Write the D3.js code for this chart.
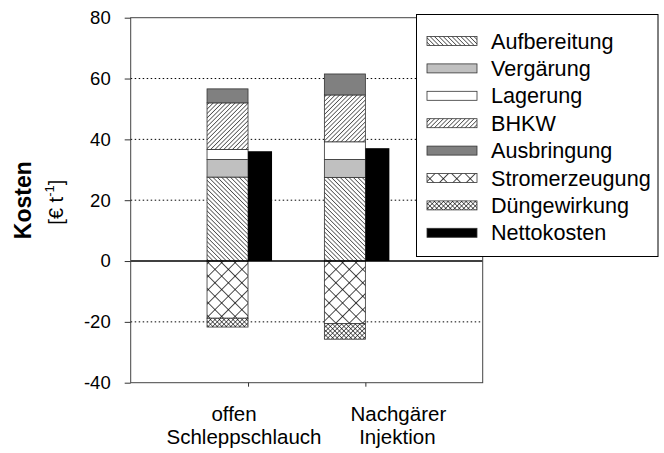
<!DOCTYPE html>
<html>
<head>
<meta charset="utf-8">
<script src="https://cdn.jsdelivr.net/npm/d3@7"></script>
<style>
  html, body { margin: 0; padding: 0; background: #fff; }
  svg { display: block; font-family: "Liberation Sans", Arial, sans-serif; }
</style>
</head>
<body>
<svg id="chart" width="664" height="453"></svg>
<script>
// Kosten je Verfahren, Beiträge in € je Tonne
const categories = [["offen", "Schleppschlauch"], ["Nachgärer", "Injektion"]];
const seriesNames = ["Aufbereitung", "Vergärung", "Lagerung", "BHKW", "Ausbringung", "Stromerzeugung", "Düngewirkung"];
const aufbereitung   = [27.6, 27.5];
const vergaerung     = [5.8, 5.9];
const lagerung       = [3.3, 5.8];
const bhkw           = [15.3, 15.4];
const ausbringung    = [4.6, 6.9];
const stromerzeugung = [-18.8, -20.6];
const duengewirkung  = [-2.9, -5.1];
const nettokosten    = [36.1, 37.1];
const yTicks = [-40, -20, 0, 20, 40, 60, 80];
const gridTicks = [-20, 20, 40, 60];
const legendNames = ["Aufbereitung", "Vergärung", "Lagerung", "BHKW", "Ausbringung", "Stromerzeugung", "Düngewirkung", "Nettokosten"];

const seriesValues = [aufbereitung, vergaerung, lagerung, bhkw, ausbringung, stromerzeugung, duengewirkung];
const rows = categories.map((c, i) => {
  const r = { idx: i };
  seriesNames.forEach((k, j) => { r[k] = seriesValues[j][i]; });
  return r;
});

const svg = d3.select("#chart");
const plotL = 130.7, plotR = 482.7, plotT = 17.7, plotB = 382.7;

const x = d3.scaleLinear().domain([0, 3]).range([plotL, plotR]);
const y = d3.scaleLinear().domain([-40, 80]).range([plotB, plotT]);

// fill patterns
const defs = svg.append("defs");
function linePattern(id, angle, spacing, width) {
  const p = defs.append("pattern").attr("id", id)
    .attr("patternUnits", "userSpaceOnUse")
    .attr("width", spacing).attr("height", spacing)
    .attr("patternTransform", `rotate(${angle})`);
  p.append("rect").attr("width", spacing).attr("height", spacing).attr("fill", "#fff");
  p.append("line").attr("x1", 0).attr("y1", 0).attr("x2", 0).attr("y2", spacing)
    .attr("stroke", "#000").attr("stroke-width", width);
}
function crossPattern(id, spacing, width) {
  const p = defs.append("pattern").attr("id", id)
    .attr("patternUnits", "userSpaceOnUse")
    .attr("width", spacing).attr("height", spacing)
    .attr("patternTransform", "rotate(45)");
  p.append("rect").attr("width", spacing).attr("height", spacing).attr("fill", "#fff");
  p.append("line").attr("x1", 0).attr("y1", 0).attr("x2", 0).attr("y2", spacing)
    .attr("stroke", "#000").attr("stroke-width", width);
  p.append("line").attr("x1", 0).attr("y1", 0).attr("x2", spacing).attr("y2", 0)
    .attr("stroke", "#000").attr("stroke-width", width);
}
linePattern("p-aufb", -45, 3.1, 1.1);
linePattern("p-bhkw", 45, 3.1, 1.1);
crossPattern("p-strom", 9.5, 1.4);
crossPattern("p-duenger", 3.2, 1.1);

const fills = {
  "Aufbereitung": "url(#p-aufb)",
  "Vergärung": "#c0c0c0",
  "Lagerung": "#ffffff",
  "BHKW": "url(#p-bhkw)",
  "Ausbringung": "#808080",
  "Stromerzeugung": "url(#p-strom)",
  "Düngewirkung": "url(#p-duenger)",
  "Nettokosten": "#000000"
};

// grid lines
svg.append("g").selectAll("line").data(gridTicks).join("line")
  .attr("x1", plotL).attr("x2", plotR)
  .attr("y1", d => y(d)).attr("y2", d => y(d))
  .attr("stroke", "#000").attr("stroke-width", 1)
  .attr("stroke-dasharray", "1.5,2.5");

// stacked bars
const stack = d3.stack().keys(seriesNames).offset(d3.stackOffsetDiverging);
const layers = stack(rows);
const stackW = 41, netW = 24;

svg.append("g").selectAll("g").data(layers).join("g")
  .attr("fill", d => fills[d.key])
  .selectAll("rect").data(d => d).join("rect")
  .attr("x", d => x(d.data.idx + 1) - stackW)
  .attr("width", stackW)
  .attr("y", d => y(Math.max(d[0], d[1])))
  .attr("height", d => Math.abs(y(d[0]) - y(d[1])))
  .attr("stroke", "#333").attr("stroke-width", 0.8);

// net cost bars
svg.append("g").selectAll("rect").data(nettokosten).join("rect")
  .attr("x", (d, i) => x(i + 1))
  .attr("width", netW)
  .attr("y", d => y(Math.max(0, d)))
  .attr("height", d => Math.abs(y(d) - y(0)))
  .attr("fill", fills["Nettokosten"]);

// zero line
svg.append("line")
  .attr("x1", plotL).attr("x2", plotR)
  .attr("y1", y(0)).attr("y2", y(0))
  .attr("stroke", "#000").attr("stroke-width", 1.5);

// frame
svg.append("rect")
  .attr("x", plotL).attr("y", plotT)
  .attr("width", plotR - plotL).attr("height", plotB - plotT)
  .attr("fill", "none").attr("stroke", "#444").attr("stroke-width", 1);

// y axis
const yAxis = d3.axisLeft(y).tickValues(yTicks).tickSize(6).tickPadding(14).tickFormat(d => String(d));
const gy = svg.append("g").attr("transform", `translate(${plotL},0)`).call(yAxis);
gy.select(".domain").remove();
gy.selectAll(".tick line").attr("stroke", "#333");
gy.selectAll(".tick text").attr("font-size", 18.5).attr("fill", "#000")
  .style("font-family", "'Liberation Sans', Arial, sans-serif");

// x axis
const xAxis = d3.axisBottom(x).tickValues([1, 2]).tickSize(4).tickFormat("");
const gx = svg.append("g").attr("transform", `translate(0,${plotB})`).call(xAxis);
gx.select(".domain").remove();
gx.selectAll(".tick line").attr("stroke", "#333");

// category labels, two lines each, set slightly off the tick marks
const labelShift = [[-14, -4], [33, 32]];
const xl = svg.append("g").selectAll("text").data(categories).join("text")
  .attr("y", 421)
  .attr("text-anchor", "middle")
  .attr("font-size", 20.5)
  .attr("fill", "#000");
xl.each(function (d, i) {
  d3.select(this).selectAll("tspan").data(d).join("tspan")
    .attr("x", (t, j) => x(i + 1) + labelShift[i][j])
    .attr("dy", (t, j) => j === 0 ? 0 : 23)
    .text(t => t);
});

// y axis title
const cy = (plotT + plotB) / 2;
svg.append("text")
  .attr("transform", `translate(31,${cy}) rotate(-90)`)
  .attr("text-anchor", "middle")
  .attr("font-size", 23).attr("font-weight", "bold")
  .attr("fill", "#000")
  .text("Kosten");
const unit = svg.append("text")
  .attr("transform", `translate(63,${cy + 2}) rotate(-90)`)
  .attr("text-anchor", "middle")
  .attr("font-size", 20)
  .attr("fill", "#000");
unit.append("tspan").text("[€ t");
unit.append("tspan").attr("font-size", 13).attr("dy", -9).text("-1");
unit.append("tspan").attr("dy", 9).text("]");

// legend
const lg = svg.append("g");
lg.append("rect").attr("x", 416.5).attr("y", 14.5).attr("width", 241.5).attr("height", 242)
  .attr("fill", "#fff").attr("stroke", "#000").attr("stroke-width", 1);
const rowsL = lg.selectAll("g.item").data(legendNames).join("g").attr("class", "item")
  .attr("transform", (d, i) => `translate(0,${41 + i * 27.4})`);
rowsL.append("rect")
  .attr("x", 427).attr("y", -4.5).attr("width", 50).attr("height", 9)
  .attr("fill", d => fills[d])
  .attr("stroke", "#333").attr("stroke-width", 0.8);
rowsL.append("text")
  .attr("x", 491).attr("y", 0).attr("dy", "0.35em")
  .attr("font-size", 21.6).attr("fill", "#000")
  .text(d => d);
</script>
</body>
</html>
